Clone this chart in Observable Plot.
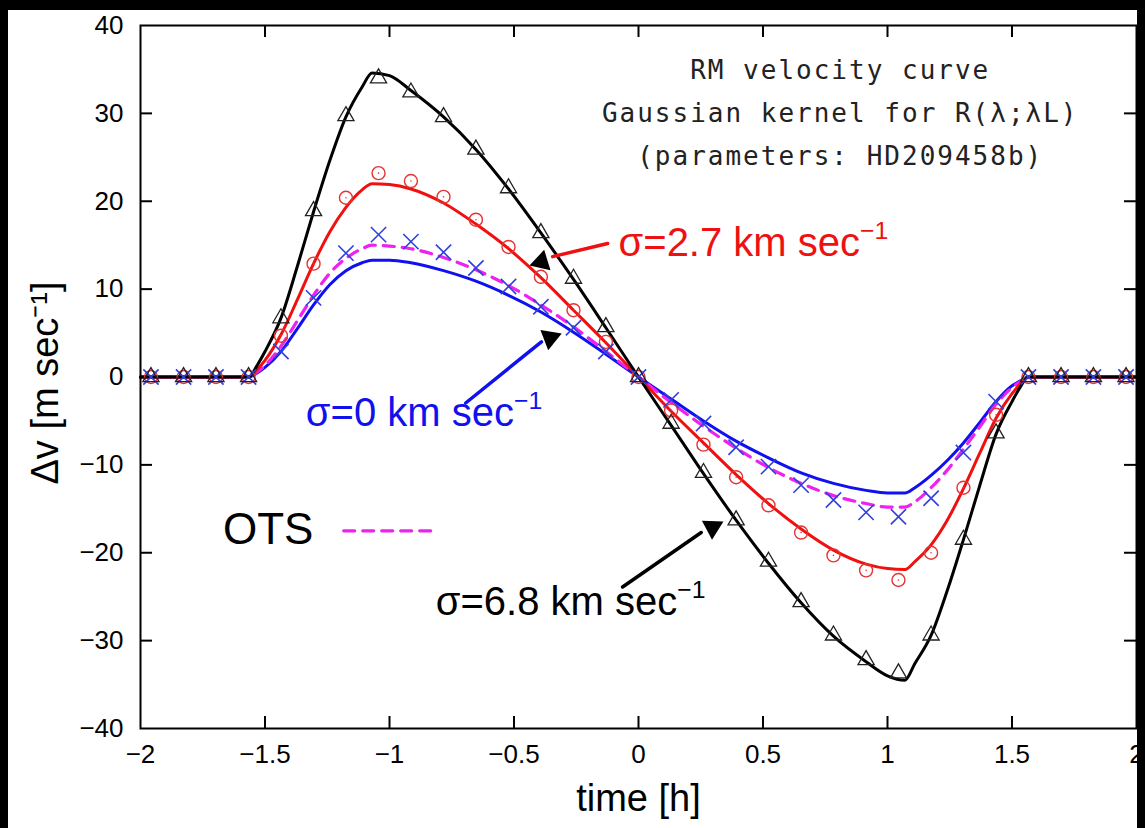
<!DOCTYPE html>
<html><head><meta charset="utf-8">
<script src="https://cdn.jsdelivr.net/npm/d3@7"></script>
<script src="https://cdn.jsdelivr.net/npm/@observablehq/plot@0.6"></script>
<style>
html,body{margin:0;padding:0;background:#000;width:1145px;height:828px;overflow:hidden}
#panel{position:absolute;left:8px;top:10px;width:1129px;height:818px;background:#fff;overflow:hidden}
</style></head><body><div id="panel"></div>
<script>
// time grid for the model curves [h]
const tLine = [-2, -1.566, -1.53, -1.5, -1.436, -1.37, -1.305, -1.24, -1.175, -1.11, -1.07, -1.0, -0.914, -0.783, -0.653, -0.522, -0.392, -0.261, -0.131, 0,
  0.131, 0.261, 0.392, 0.522, 0.653, 0.783, 0.914, 1.0, 1.07, 1.11, 1.175, 1.24, 1.305, 1.37, 1.436, 1.5, 1.53, 1.566, 2];
// sigma = 6.8 km/s (black)
const sigma68 = [0, 0, 1.4, 2.9, 6.7, 12.6, 18.8, 24.6, 29.6, 33.0, 34.6, 34.3, 32.6, 29.6, 25.9, 21.4, 16.4, 11.1, 5.6, 0,
  -5.5, -11.0, -16.3, -21.2, -25.7, -29.5, -32.4, -34.0, -34.5, -32.6, -29.4, -24.3, -18.5, -12.4, -6.5, -2.8, -1.3, 0, 0];
// sigma = 2.7 km/s (red)
const sigma27 = [0, 0, 0.9, 1.9, 4.8, 8.8, 12.9, 16.5, 19.3, 21.3, 22.0, 21.9, 21.4, 19.8, 17.4, 14.6, 11.3, 7.6, 3.9, 0,
  -3.9, -7.5, -11.1, -14.4, -17.3, -19.7, -21.3, -21.8, -21.9, -21.0, -19.1, -16.3, -12.7, -8.7, -4.7, -1.9, -0.9, 0, 0];
// sigma = 0 km/s (blue)
const sigma0 = [0, 0, 0.5, 1.1, 2.9, 5.5, 8.2, 10.5, 12.1, 13.0, 13.3, 13.3, 13.0, 12.1, 10.9, 9.3, 7.4, 5.1, 2.6, 0,
  -2.5, -5.0, -7.3, -9.2, -10.9, -12.1, -12.9, -13.2, -13.2, -12.6, -11.2, -9.5, -7.5, -5.2, -2.8, -1.0, -0.5, 0, 0];
// OTS (magenta dashed)
const ots = [0, 0, 0.6, 1.3, 3.5, 6.4, 9.3, 11.8, 13.5, 14.6, 15.0, 14.9, 14.6, 13.6, 12.2, 10.4, 8.2, 5.7, 2.9, 0,
  -2.9, -5.6, -8.1, -10.3, -12.1, -13.5, -14.4, -14.8, -14.8, -14.2, -12.6, -10.6, -8.2, -5.7, -3.1, -1.2, -0.6, 0, 0];

// sampled points
const tMarks = [-1.958, -1.827, -1.697, -1.566, -1.436, -1.305, -1.175, -1.044, -0.914, -0.783, -0.653, -0.522, -0.392, -0.261, -0.131, 0,
  0.131, 0.261, 0.392, 0.522, 0.653, 0.783, 0.914, 1.044, 1.175, 1.305, 1.436, 1.566, 1.697, 1.827, 1.958];
const triMarks = [0, 0, 0, 0, 6.7, 18.9, 29.7, 34.0, 32.4, 29.6, 25.9, 21.5, 16.4, 11.2, 5.7, 0,
  -5.3, -10.9, -16.3, -21.0, -25.6, -29.4, -32.2, -33.7, -29.4, -18.5, -6.4, 0, 0, 0, 0];
const circMarks = [0, 0, 0, 0, 4.7, 12.9, 20.4, 23.2, 22.3, 20.5, 17.9, 14.8, 11.4, 7.6, 4.0, 0,
  -3.8, -7.7, -11.4, -14.6, -17.7, -20.3, -22.0, -23.1, -20.0, -12.6, -4.3, 0, 0, 0, 0];
const crossMarks = [0, 0, 0, 0, 2.9, 9.0, 14.1, 16.2, 15.4, 14.2, 12.4, 10.3, 8.0, 5.6, 2.9, 0,
  -2.6, -5.3, -8.0, -10.2, -12.3, -14.0, -15.4, -15.9, -13.8, -8.6, -2.8, 0, 0, 0, 0];

// ticks
const xTicks = [-2, -1.5, -1, -0.5, 0, 0.5, 1, 1.5, 2];
const yTicks = [-40, -30, -20, -10, 0, 10, 20, 30, 40];
const xInner = [-1.5, -1, -0.5, 0, 0.5, 1, 1.5];
const yInner = [-30, -20, -10, 0, 10, 20, 30];

// text
const infoLines = ["RM velocity curve", "Gaussian kernel for R(λ;λL)", "(parameters: HD209458b)"];
const infoX = [0.81, 0.81, 0.81];
const infoY = [34.9, 30.0, 25.1];
const sigmaLabels = ["σ=2.7 km sec⁻¹", "σ=0 km sec⁻¹", "σ=6.8 km sec⁻¹"];
const sigmaColors = ["#ee1111", "#1111ee", "#000000"];
const sigmaX = [-0.08, -1.336, -0.814];
const sigmaY = [15.2, -4.1, -25.6];
// arrows: shaft start, shaft end, head point
const arrowX1 = [-0.124, -0.694, -0.064];
const arrowY1 = [15.2, -2.96, -23.9];
const arrowX2 = [-0.345, -0.39, 0.252];
const arrowY2 = [13.7, 4.0, -17.7];
const arrowHX = [-0.39, -0.355, 0.297];
const arrowHY = [13.1, 4.45, -17.1];
const arrowRot = [253, 69, 62];
const arrowBend = [-25, 40, 12];

const rows = (ts, vs) => ts.map((t, i) => ({t, v: vs[i]}));
const arrows = arrowX1.map((x1, i) => ({x1, y1: arrowY1[i], x2: arrowX2[i], y2: arrowY2[i], hx: arrowHX[i], hy: arrowHY[i], rot: arrowRot[i], bend: arrowBend[i], color: sigmaColors[i]}));
const sig = sigmaLabels.map((s, i) => ({s, x: sigmaX[i], y: sigmaY[i], c: sigmaColors[i]}));
const info = infoLines.map((s, i) => ({s, x: infoX[i], y: infoY[i]}));
const fmt = d => String(d).replace("-", "−");

const plot = Plot.plot({
  width: 1129, height: 818,
  marginLeft: 132, marginRight: 1, marginTop: 15, marginBottom: 100,
  style: {background: "white", fontFamily: "'Liberation Sans', Arial, sans-serif", fontSize: "25px", color: "black", overflow: "visible"},
  x: {domain: [-2, 2]},
  y: {domain: [-40, 40]},
  marks: [
    Plot.axisX(xTicks, {tickSize: 0, tickPadding: 16, tickFormat: fmt, label: null, fontSize: 26}),
    Plot.axisY(yTicks, {tickSize: 0, tickPadding: 17, tickFormat: fmt, label: null, fontSize: 26}),
    Plot.ruleX(xInner, {x: d => d, insetTop: 691, stroke: "black", strokeWidth: 2}),
    Plot.ruleX(xInner, {x: d => d, insetBottom: 691, stroke: "black", strokeWidth: 2}),
    Plot.ruleY(yInner, {y: d => d, insetRight: 984, stroke: "black", strokeWidth: 2}),
    Plot.ruleY(yInner, {y: d => d, insetLeft: 984, stroke: "black", strokeWidth: 2}),
    // curves
    Plot.line(rows(tLine, sigma0), {x: "t", y: "v", stroke: "#1010f0", strokeWidth: 3, curve: "monotone-x"}),
    Plot.line(rows(tLine, ots), {x: "t", y: "v", stroke: "#ee22ee", strokeWidth: 3.2, strokeDasharray: "11,8", curve: "monotone-x"}),
    Plot.line(rows(tLine, sigma27), {x: "t", y: "v", stroke: "#f01010", strokeWidth: 3, curve: "monotone-x"}),
    Plot.line(rows(tLine, sigma68), {x: "t", y: "v", stroke: "#000", strokeWidth: 3, curve: "monotone-x"}),
    // markers
    Plot.dot(rows(tMarks, circMarks), {x: "t", y: "v", r: 6.5, stroke: "#e63333", strokeWidth: 1.4}),
    Plot.dot(rows(tMarks, circMarks), {x: "t", y: "v", r: 0.8, fill: "#e63333"}),
    Plot.dot(rows(tMarks, crossMarks), {x: "t", y: "v", r: 7, symbol: "times", stroke: "#3040dd", strokeWidth: 1.6}),
    Plot.dot(rows(tMarks, triMarks), {x: "t", y: "v", r: 6, symbol: "triangle", stroke: "#222", strokeWidth: 1.3}),
    // annotation block
    Plot.text(info, {x: "x", y: "y", text: "s", fontFamily: "'DejaVu Sans Mono', monospace", fontSize: 26, fill: "#222", textAnchor: "middle"}),
    // arrows
    Plot.arrow(arrows, {x1: "x1", y1: "y1", x2: "x2", y2: "y2", bend: d => d.bend, headLength: 0, stroke: "color", strokeWidth: 3.5}),
    Plot.dot(arrows, {x: "hx", y: "hy", symbol: "triangle", r: 8, rotate: "rot", fill: "#000", stroke: "none"}),
    Plot.text(sig, {x: "x", y: "y", text: "s", fill: "c", textAnchor: "start", fontSize: 40}),
    // OTS legend
    Plot.text(["OTS"], {x: [-1.669], y: [-17.4], textAnchor: "start", fontSize: 44}),
    Plot.line([{t: -1.184, v: -17.5}, {t: -0.822, v: -17.5}], {x: "t", y: "v", stroke: "#ee22ee", strokeWidth: 3.2, strokeDasharray: "11,8"}),
    // axis titles
    Plot.text(["time [h]"], {frameAnchor: "bottom", dy: 82, fontSize: 38}),
    Plot.text(["Δv [m sec⁻¹]"], {frameAnchor: "left", textAnchor: "middle", dx: -95, dy: 6, rotate: -90, fontSize: 38}),
    Plot.frame({stroke: "black", strokeWidth: 2})
  ]
});
document.getElementById("panel").appendChild(plot);
const sel = d3.select(plot).selectAll("text");
// widen the monospaced info block
sel.filter(function() { return infoLines.includes(this.textContent); }).attr("letter-spacing", 2);
// render "⁻¹" as a raised superscript
sel.each(function() {
  const s = this.textContent;
  if (s.endsWith("⁻¹") && this.childElementCount === 0) {
    const sz = parseFloat(getComputedStyle(this).fontSize) || 38;
    this.textContent = "";
    d3.select(this).append("tspan").text(s.slice(0, -2));
    d3.select(this).append("tspan").attr("dy", -0.42 * sz).attr("font-size", 0.62 * sz).text("−1");
  }
});
</script></body></html>
